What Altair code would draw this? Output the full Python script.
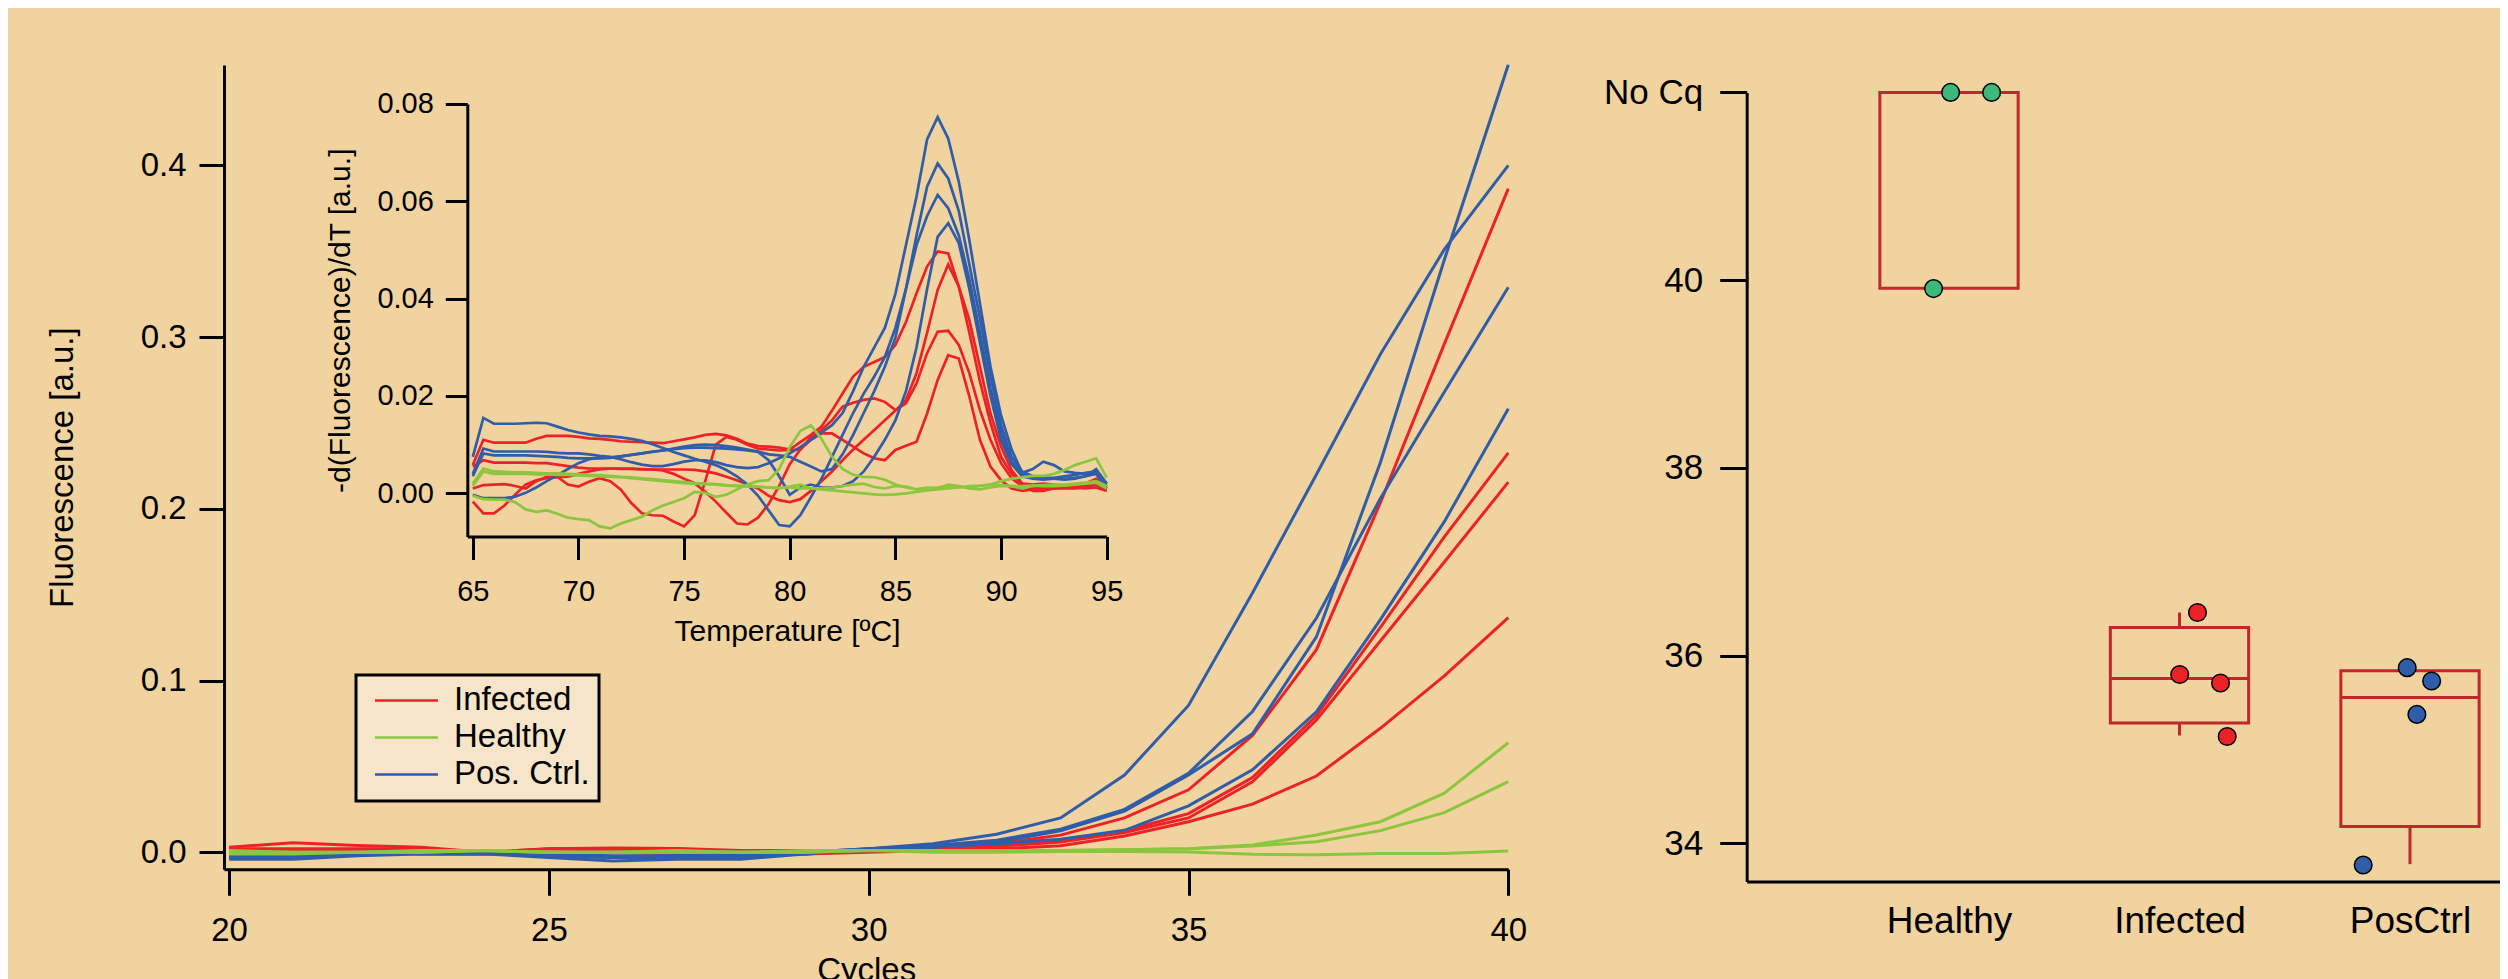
import altair as alt
import pandas as pd

FONT = "Liberation Sans"

# ---------------- categories / colours ----------------
series_groups = ["Infected", "Healthy", "Pos. Ctrl."]
series_colors = ["#ec2227", "#8cc63f", "#2f5da9"]

# ---------------- amplification curves (cycles 20..40) ----------------
cycles = list(range(20, 41))
amp_inf_1 = [0.003, 0.0056, 0.004, 0.003, 0.000, 0.002, 0.0025, 0.0022, 0.001, 0.001, 0.001, 0.003, 0.005, 0.010, 0.020, 0.0364, 0.068, 0.118, 0.2035, 0.296, 0.3864]
amp_inf_2 = [0.002, 0.002, 0.002, 0.002, 0.000, 0.002, 0.002, 0.002, 0.000, -0.001, 0.001, 0.002, 0.004, 0.0068, 0.0125, 0.0225, 0.0435, 0.0795, 0.131, 0.1836, 0.2326]
amp_inf_3 = [0.001, 0.001, 0.001, -0.001, -0.001, 0.000, 0.000, -0.001, -0.001, -0.001, 0.001, 0.002, 0.0035, 0.006, 0.0115, 0.020, 0.041, 0.077, 0.123, 0.169, 0.2155]
amp_inf_4 = [0.000, 0.000, 0.000, -0.001, -0.001, 0.000, 0.001, 0.000, -0.001, -0.001, 0.000, 0.001, 0.002, 0.0038, 0.0095, 0.0178, 0.028, 0.0444, 0.0722, 0.1027, 0.1366]
amp_pos_1 = [-0.004, -0.004, -0.002, -0.001, -0.001, -0.003, -0.005, -0.004, -0.004, -0.001, 0.002, 0.005, 0.0105, 0.020, 0.045, 0.0855, 0.151, 0.220, 0.290, 0.351, 0.400]
amp_pos_2 = [-0.003, -0.002, -0.001, 0.000, 0.000, -0.002, -0.003, -0.003, -0.002, 0.000, 0.002, 0.003, 0.006, 0.0125, 0.024, 0.045, 0.069, 0.1254, 0.227, 0.345, 0.4585]
amp_pos_3 = [-0.002, -0.001, -0.001, 0.000, 0.000, -0.001, -0.002, -0.002, -0.001, 0.000, 0.002, 0.004, 0.007, 0.0135, 0.025, 0.046, 0.082, 0.1364, 0.206, 0.268, 0.329]
amp_pos_4 = [-0.003, -0.003, -0.001, 0.000, 0.000, -0.002, -0.003, -0.003, -0.003, 0.000, 0.001, 0.003, 0.005, 0.0076, 0.0128, 0.027, 0.048, 0.0818, 0.1355, 0.1925, 0.2582]
amp_hea_1 = [0.000, 0.000, 0.000, 0.000, 0.001, 0.000, 0.000, 0.000, 0.000, 0.001, 0.001, 0.001, 0.001, 0.001, 0.0015, 0.002, 0.0043, 0.0101, 0.0178, 0.0344, 0.0638]
amp_hea_2 = [-0.001, -0.001, 0.000, 0.000, 0.001, 0.000, 0.000, 0.000, 0.000, 0.000, 0.001, 0.001, 0.001, 0.001, 0.0015, 0.002, 0.0037, 0.0062, 0.0126, 0.0231, 0.0411]
amp_hea_3 = [0.001, 0.000, 0.000, 0.001, 0.001, 0.000, 0.000, 0.001, 0.000, 0.000, 0.001, 0.000, 0.000, 0.0005, 0.0005, 0.0002, -0.0012, -0.0014, -0.0007, -0.0007, 0.0008]

# ---------------- melt curves (65..95 C, 0.5 C steps) ----------------
melt_temps = [65.0, 65.5, 66.0, 66.5, 67.0, 67.5, 68.0, 68.5, 69.0, 69.5,
              70.0, 70.5, 71.0, 71.5, 72.0, 72.5, 73.0, 73.5, 74.0, 74.5,
              75.0, 75.5, 76.0, 76.5, 77.0, 77.5, 78.0, 78.5, 79.0, 79.5,
              80.0, 80.5, 81.0, 81.5, 82.0, 82.5, 83.0, 83.5, 84.0, 84.5,
              85.0, 85.5, 86.0, 86.5, 87.0, 87.5, 88.0, 88.5, 89.0, 89.5,
              90.0, 90.5, 91.0, 91.5, 92.0, 92.5, 93.0, 93.5, 94.0, 94.5,
              95.0]
melt_inf_1 = [0.0058, 0.0110, 0.0104, 0.0104, 0.0104, 0.0104, 0.0112, 0.0118, 0.0118, 0.0118,
              0.0116, 0.0113, 0.0112, 0.0110, 0.0107, 0.0106, 0.0105, 0.0104, 0.0103, 0.0107,
              0.0111, 0.0115, 0.0120, 0.0122, 0.0119, 0.0112, 0.0102, 0.0097, 0.0096, 0.0094,
              0.0090, 0.0105, 0.0120, 0.0137, 0.0170, 0.0205, 0.0240, 0.0260, 0.0270, 0.0280,
              0.0305, 0.0352, 0.0411, 0.0466, 0.0497, 0.0493, 0.0425, 0.0330, 0.0230, 0.0145,
              0.0075, 0.0040, 0.0020, 0.0018, 0.0020, 0.0018, 0.0015, 0.0012, 0.0010, 0.0012,
              0.0005]
melt_inf_2 = [0.0055, 0.0068, 0.0063, 0.0063, 0.0063, 0.0063, 0.0062, 0.0062, 0.0059, 0.0056,
              0.0053, 0.0051, 0.0051, 0.0051, 0.0050, 0.0050, 0.0049, 0.0049, 0.0049, 0.0049,
              0.0049, 0.0048, 0.0045, 0.0041, 0.0034, 0.0027, 0.0018, 0.0010, -0.0005, -0.0014,
              -0.0018, -0.0012, 0.0005, 0.0025, 0.0045, 0.0068, 0.0090, 0.0110, 0.0130, 0.0150,
              0.0170, 0.0192, 0.0247, 0.0330, 0.0418, 0.0470, 0.0425, 0.0356, 0.0260, 0.0164,
              0.0096, 0.0048, 0.0020, 0.0005, 0.0005, 0.0010, 0.0012, 0.0012, 0.0015, 0.0025,
              0.0010]
melt_inf_3 = [-0.0017, -0.0041, -0.0041, -0.0025, -0.0003, 0.0018, 0.0027, 0.0031, 0.0033, 0.0034,
              0.0040, 0.0045, 0.0049, 0.0051, 0.0051, 0.0051, 0.0050, 0.0049, 0.0047, 0.0040,
              0.0030, 0.0021, 0.0003, -0.0017, -0.0040, -0.0062, -0.0064, -0.0050, -0.0022, 0.0015,
              0.0060, 0.0090, 0.0115, 0.0130, 0.0150, 0.0178, 0.0186, 0.0192, 0.0195, 0.0188,
              0.0171, 0.0185, 0.0226, 0.0288, 0.0332, 0.0334, 0.0305, 0.0247, 0.0171, 0.0110,
              0.0062, 0.0031, 0.0015, 0.0012, 0.0012, 0.0013, 0.0012, 0.0015, 0.0020, 0.0030,
              0.0015]
melt_inf_4 = [0.0010, 0.0017, 0.0018, 0.0019, 0.0015, 0.0010, 0.0025, 0.0034, 0.0034, 0.0018,
              0.0014, 0.0024, 0.0031, 0.0025, 0.0008, -0.0020, -0.0041, -0.0045, -0.0046, -0.0058,
              -0.0068, -0.0045, 0.0025, 0.0100, 0.0116, 0.0110, 0.0100, 0.0092, 0.0090, 0.0088,
              0.0089, 0.0090, 0.0110, 0.0123, 0.0123, 0.0110, 0.0096, 0.0082, 0.0072, 0.0068,
              0.0089, 0.0098, 0.0106, 0.0164, 0.0233, 0.0284, 0.0277, 0.0199, 0.0110, 0.0055,
              0.0027, 0.0010, 0.0005, 0.0008, 0.0010, 0.0010, 0.0010, 0.0010, 0.0012, 0.0018,
              0.0008]
melt_pos_1 = [0.0075, 0.0155, 0.0143, 0.0143, 0.0143, 0.0144, 0.0145, 0.0144, 0.0137, 0.0130,
              0.0125, 0.0121, 0.0118, 0.0117, 0.0115, 0.0112, 0.0108, 0.0101, 0.0093, 0.0085,
              0.0078, 0.0071, 0.0065, 0.0058, 0.0048, 0.0035, 0.0018, -0.0005, -0.0035, -0.0065,
              -0.0068, -0.0045, -0.0008, 0.0030, 0.0075, 0.0120, 0.0165, 0.0205, 0.0240, 0.0280,
              0.0340, 0.0420, 0.0510, 0.0570, 0.0613, 0.0586, 0.0530, 0.0440, 0.0330, 0.0215,
              0.0125, 0.0065, 0.0040, 0.0035, 0.0032, 0.0030, 0.0028, 0.0030, 0.0035, 0.0040,
              0.0010]
melt_pos_2 = [0.0040, 0.0092, 0.0086, 0.0086, 0.0086, 0.0086, 0.0086, 0.0085, 0.0083, 0.0082,
              0.0082, 0.0080, 0.0077, 0.0075, 0.0070, 0.0064, 0.0059, 0.0056, 0.0056, 0.0060,
              0.0065, 0.0068, 0.0068, 0.0064, 0.0058, 0.0054, 0.0052, 0.0054, 0.0062, 0.0072,
              0.0082, 0.0095, 0.0110, 0.0125, 0.0140, 0.0165, 0.0210, 0.0260, 0.0300, 0.0340,
              0.0410, 0.0510, 0.0610, 0.0727, 0.0773, 0.0729, 0.0640, 0.0520, 0.0390, 0.0260,
              0.0160, 0.0090, 0.0042, 0.0050, 0.0065, 0.0058, 0.0045, 0.0042, 0.0040, 0.0042,
              0.0020]
melt_pos_3 = [0.0035, 0.0082, 0.0078, 0.0078, 0.0078, 0.0078, 0.0077, 0.0076, 0.0075, 0.0073,
              0.0072, 0.0072, 0.0072, 0.0073, 0.0076, 0.0079, 0.0082, 0.0086, 0.0088, 0.0092,
              0.0096, 0.0099, 0.0100, 0.0099, 0.0097, 0.0094, 0.0090, 0.0086, 0.0080, 0.0078,
              0.0075, 0.0065, 0.0055, 0.0045, 0.0050, 0.0080, 0.0120, 0.0165, 0.0210, 0.0260,
              0.0320, 0.0420, 0.0530, 0.0630, 0.0678, 0.0647, 0.0580, 0.0470, 0.0360, 0.0240,
              0.0140, 0.0075, 0.0045, 0.0035, 0.0032, 0.0032, 0.0035, 0.0038, 0.0042, 0.0045,
              0.0015]
melt_pos_4 = [-0.0003, -0.0010, -0.0010, -0.0010, -0.0007, 0.0001, 0.0012, 0.0025, 0.0037, 0.0050,
              0.0062, 0.0070, 0.0073, 0.0074, 0.0076, 0.0079, 0.0082, 0.0085, 0.0088, 0.0091,
              0.0093, 0.0094, 0.0094, 0.0093, 0.0092, 0.0090, 0.0088, 0.0085, 0.0068, 0.0035,
              -0.0003, 0.0012, 0.0018, 0.0012, 0.0012, 0.0015, 0.0025, 0.0045, 0.0075, 0.0110,
              0.0150, 0.0210, 0.0300, 0.0420, 0.0527, 0.0555, 0.0514, 0.0420, 0.0310, 0.0200,
              0.0110, 0.0060, 0.0035, 0.0030, 0.0028, 0.0030, 0.0030, 0.0032, 0.0035, 0.0050,
              0.0020]
melt_hea_1 = [-0.0005, -0.0012, -0.0013, -0.0013, -0.0018, -0.0033, -0.0038, -0.0035, -0.0042, -0.0050,
              -0.0053, -0.0055, -0.0068, -0.0072, -0.0062, -0.0055, -0.0048, -0.0035, -0.0025, -0.0018,
              -0.0010, 0.0003, 0.0001, -0.0007, -0.0003, 0.0008, 0.0018, 0.0025, 0.0027, 0.0050,
              0.0095, 0.0128, 0.0140, 0.0112, 0.0075, 0.0050, 0.0038, 0.0034, 0.0033, 0.0028,
              0.0018, 0.0012, 0.0008, 0.0010, 0.0012, 0.0016, 0.0013, 0.0012, 0.0015, 0.0018,
              0.0025, 0.0030, 0.0033, 0.0036, 0.0036, 0.0040, 0.0048, 0.0058, 0.0065, 0.0072,
              0.0032]
melt_hea_2 = [0.0020, 0.0051, 0.0045, 0.0044, 0.0043, 0.0043, 0.0042, 0.0041, 0.0041, 0.0040,
              0.0039, 0.0038, 0.0037, 0.0036, 0.0034, 0.0033, 0.0031, 0.0029, 0.0027, 0.0025,
              0.0023, 0.0021, 0.0020, 0.0019, 0.0017, 0.0016, 0.0015, 0.0014, 0.0012, 0.0010,
              0.0014, 0.0018, 0.0010, 0.0010, 0.0012, 0.0015, 0.0018, 0.0020, 0.0013, 0.0010,
              0.0015, 0.0014, 0.0008, 0.0012, 0.0010, 0.0018, 0.0015, 0.0010, 0.0008, 0.0012,
              0.0015, 0.0015, 0.0010, 0.0015, 0.0017, 0.0018, 0.0018, 0.0020, 0.0022, 0.0025,
              0.0015]
melt_hea_3 = [0.0015, 0.0045, 0.0040, 0.0040, 0.0040, 0.0040, 0.0039, 0.0039, 0.0038, 0.0038,
              0.0037, 0.0036, 0.0035, 0.0034, 0.0033, 0.0031, 0.0029, 0.0027, 0.0025, 0.0023,
              0.0021, 0.0020, 0.0019, 0.0018, 0.0016, 0.0015, 0.0014, 0.0013, 0.0012, 0.0012,
              0.0012, 0.0010, 0.0010, 0.0008, 0.0006, 0.0004, 0.0002, 0.0000, -0.0002, -0.0003,
              -0.0002, 0.0000, 0.0003, 0.0006, 0.0008, 0.0010, 0.0012, 0.0015, 0.0016, 0.0018,
              0.0017, 0.0015, 0.0015, 0.0016, 0.0015, 0.0015, 0.0016, 0.0018, 0.0020, 0.0022,
              0.0010]

# ---------------- Cq box plot ----------------
box_groups = ["Healthy", "Infected", "PosCtrl"]
box_pos = [1, 2, 3]
box_q1 = [39.915, 35.283, 34.18]
box_q3 = [42.0, 36.30, 35.84]
box_median = [42.0, 35.756, 35.554]
box_whisker_lo = [39.915, 35.15, 33.78]
box_whisker_hi = [42.0, 36.46, 35.84]
point_colors = ["#3cb878", "#ec2227", "#2f5da9"]
NO_CQ = 42.0

pt_group = ["Healthy", "Healthy", "Healthy", "Infected", "Infected", "Infected", "Infected",
            "PosCtrl", "PosCtrl", "PosCtrl", "PosCtrl"]
pt_cq = [42.0, 42.0, 39.91, 36.46, 35.80, 35.71, 35.14, 35.873, 35.73, 35.375, 33.77]
pt_jitter = [0.007, 0.185, -0.067, 0.078, 0.001, 0.178, 0.207, -0.012, 0.094, 0.030, -0.203]

# ---------------- build tables ----------------
amp_curves = [("Infected", "i1", amp_inf_1), ("Infected", "i2", amp_inf_2),
              ("Infected", "i3", amp_inf_3), ("Infected", "i4", amp_inf_4),
              ("Pos. Ctrl.", "p1", amp_pos_1), ("Pos. Ctrl.", "p2", amp_pos_2),
              ("Pos. Ctrl.", "p3", amp_pos_3), ("Pos. Ctrl.", "p4", amp_pos_4),
              ("Healthy", "h1", amp_hea_1), ("Healthy", "h2", amp_hea_2), ("Healthy", "h3", amp_hea_3)]
melt_curves = [("Infected", "i1", melt_inf_1), ("Infected", "i2", melt_inf_2),
               ("Infected", "i3", melt_inf_3), ("Infected", "i4", melt_inf_4),
               ("Pos. Ctrl.", "p1", melt_pos_1), ("Pos. Ctrl.", "p2", melt_pos_2),
               ("Pos. Ctrl.", "p3", melt_pos_3), ("Pos. Ctrl.", "p4", melt_pos_4),
               ("Healthy", "h1", melt_hea_1), ("Healthy", "h2", melt_hea_2), ("Healthy", "h3", melt_hea_3)]


def long_frame(xs, curves, xname, yname):
    rows = []
    for k, (group, cid, vals) in enumerate(curves):
        assert len(vals) == len(xs), cid
        for x, v in zip(xs, vals):
            rows.append({"group": group, "curve": f"{k:02d}{cid}", xname: x, yname: v})
    return pd.DataFrame(rows)


amp_df = long_frame(cycles, amp_curves, "cycle", "fluor")
melt_df = long_frame(melt_temps, melt_curves, "temp", "deriv")

BOX_HALF = 0.30
box_df = pd.DataFrame({"group": box_groups, "pos": box_pos, "q1": box_q1, "q3": box_q3,
                       "median": box_median, "wlo": box_whisker_lo, "whi": box_whisker_hi})
box_df["x0"] = box_df["pos"] - BOX_HALF
box_df["x1"] = box_df["pos"] + BOX_HALF
pos_of = dict(zip(box_groups, box_pos))
pt_df = pd.DataFrame({"group": pt_group, "cq": pt_cq, "jit": pt_jitter})
pt_df["px"] = pt_df["group"].map(pos_of) + pt_df["jit"]

# ---------------- layout (pixels inside the single view) ----------------
VIEW_W, VIEW_H = 2276, 816.6
MAIN_W, MAIN_H = 1284.3, 804.3
INS_X0, INS_X1, INS_Y0, INS_Y1 = 243.3, 882.7, 471.5, 39.0
R_X0, R_X1, R_Y0, R_Y1 = 1522.7, 2276.0, 816.6, 27.4

BG = "#f0d39e"
BOX_COLOR = "#c1272d"

color_scale = alt.Scale(domain=series_groups, range=series_colors)

main = alt.Chart(amp_df).mark_line(strokeWidth=3).encode(
    x=alt.X("cycle:Q",
            scale=alt.Scale(domain=[19.92, 40], range=[0, MAIN_W], nice=False, zero=False),
            axis=alt.Axis(values=[20, 25, 30, 35, 40], format="d", title="Cycles", orient="bottom",
                          offset=MAIN_H - VIEW_H, tickSize=26, labelPadding=19, labelFontSize=33,
                          titleFontSize=33, titleY=111, titleBaseline="alphabetic")),
    y=alt.Y("fluor:Q",
            scale=alt.Scale(domain=[-0.0099, 0.4584], range=[MAIN_H, 0], nice=False, zero=False),
            axis=alt.Axis(values=[0, 0.1, 0.2, 0.3, 0.4], format=".1f", title="Fluorescence [a.u.]",
                          orient="left", offset=0, tickSize=25, labelPadding=13, labelFontSize=33,
                          titleFontSize=33, titleX=-162, titleY=MAIN_H / 2, titleAngle=270,
                          titleBaseline="middle")),
    color=alt.Color("group:N", scale=color_scale,
                    legend=alt.Legend(orient="none", legendX=132, legendY=610, title=None,
                                      symbolType="M-3,0H3", symbolSize=441, symbolStrokeWidth=2.7,
                                      symbolOffset=25, labelOffset=31,
                                      labelFontSize=33, labelFont=FONT, padding=9,
                                      rowPadding=3, fillColor="#f6e5c8", strokeColor="black")),
    detail="curve:N",
)

inset = alt.Chart(melt_df).mark_line(strokeWidth=2.7).encode(
    x=alt.X("temp:Q",
            scale=alt.Scale(domain=[64.74, 95], range=[INS_X0, INS_X1], nice=False, zero=False),
            axis=alt.Axis(values=[65, 70, 75, 80, 85, 90, 95], format="d", title="Temperature [ºC]",
                          orient="bottom", offset=INS_Y0 - VIEW_H, tickSize=23, labelPadding=18,
                          labelFontSize=29, titleFontSize=30, titleY=104, titleBaseline="alphabetic")),
    y=alt.Y("deriv:Q",
            scale=alt.Scale(domain=[-0.00887, 0.08], range=[INS_Y0, INS_Y1], nice=False, zero=False),
            axis=alt.Axis(values=[0, 0.02, 0.04, 0.06, 0.08], format=".2f",
                          title="-d(Fluorescence)/dT [a.u.]", orient="left", offset=-INS_X0,
                          tickSize=22, labelPadding=12, labelFontSize=29, titleFontSize=30,
                          titleX=-126.7, titleAngle=270, titleBaseline="middle")),
    color=alt.Color("group:N", scale=color_scale, legend=None),
    detail="curve:N",
)


def rx():
    return alt.Scale(domain=[0.1223, 3.3905], range=[R_X0, R_X1], nice=False, zero=False)


def ry():
    return alt.Scale(domain=[33.594, NO_CQ], range=[R_Y0, R_Y1], nice=False, zero=False)


x_label_expr = " : ".join(f"datum.value == {p} ? '{g}'" for p, g in zip(box_pos[:-1], box_groups[:-1])) \
    + f" : '{box_groups[-1]}'"

boxes = alt.Chart(box_df).mark_rect(filled=False, color=BOX_COLOR, strokeWidth=3).encode(
    x=alt.X("x0:Q", scale=rx(), axis=None),
    x2="x1:Q",
    y=alt.Y("q1:Q", scale=ry(), axis=None),
    y2="q3:Q",
)
medians = alt.Chart(box_df).mark_rule(color=BOX_COLOR, strokeWidth=3).encode(
    x=alt.X("x0:Q", scale=rx(), axis=None), x2="x1:Q",
    y=alt.Y("median:Q", scale=ry(), axis=None),
)
whisk_lo = alt.Chart(box_df).mark_rule(color=BOX_COLOR, strokeWidth=3).encode(
    x=alt.X("pos:Q", scale=rx(), axis=None),
    y=alt.Y("wlo:Q", scale=ry(), axis=None), y2="q1:Q",
)
whisk_hi = alt.Chart(box_df).mark_rule(color=BOX_COLOR, strokeWidth=3).encode(
    x=alt.X("pos:Q", scale=rx(), axis=None),
    y=alt.Y("q3:Q", scale=ry(), axis=None), y2="whi:Q",
)
points = alt.Chart(pt_df).mark_circle(size=310, opacity=1, stroke="black", strokeWidth=1.5).encode(
    x=alt.X("px:Q", scale=rx(),
            axis=alt.Axis(values=box_pos, labelExpr=x_label_expr, ticks=False, tickSize=0,
                          labelPadding=22, labelFontSize=37, title=None, orient="bottom", offset=0)),
    y=alt.Y("cq:Q", scale=ry(),
            axis=alt.Axis(values=[34, 36, 38, 40, 42], format="d",
                          labelExpr=f"datum.value == {NO_CQ:g} ? 'No Cq' : datum.label",
                          title=None, orient="left", offset=-R_X0, tickSize=27, labelPadding=17,
                          labelFontSize=35)),
    fill=alt.Fill("group:N", scale=alt.Scale(domain=box_groups, range=point_colors), legend=None),
)

chart = alt.layer(main, inset, boxes, medians, whisk_lo, whisk_hi, points).resolve_scale(
    x="independent", y="independent"
).properties(
    width=VIEW_W, height=VIEW_H,
    autosize=alt.AutoSizeParams(type="none"),
    padding={"left": 216, "top": 57, "right": 0, "bottom": 97},
).configure(
    background=BG,
).configure_view(
    strokeWidth=0,
).configure_axis(
    domainColor="black", tickColor="black", labelColor="black", titleColor="black",
    domainWidth=3, tickWidth=3, grid=False, labelFont=FONT, titleFont=FONT,
    titleFontWeight="normal", labelFlush=False, labelOverlap=False,
).configure_legend(
    strokeWidth=3,
)

chart.save("out.html", embed_options={"renderer": "svg", "actions": False})
